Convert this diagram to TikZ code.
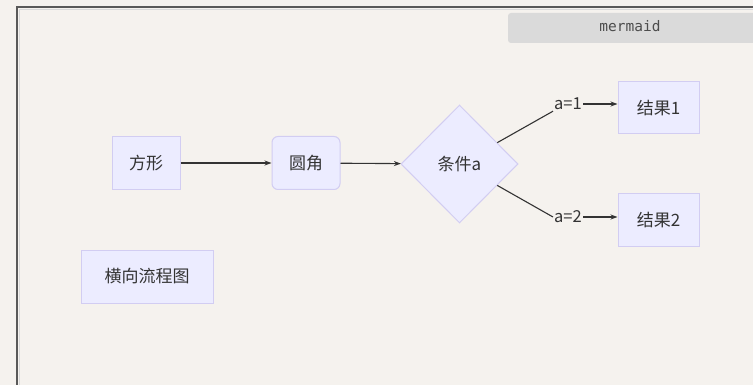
\documentclass[tikz,border=0pt]{standalone}
\usepackage{fontspec}
\setmainfont{Noto Sans CJK SC}
\newfontfamily\monof{DejaVu Sans Mono}
\usetikzlibrary{shapes.geometric,arrows.meta}
\definecolor{bgc}{HTML}{F5F2EE}
\definecolor{nodefill}{HTML}{ECECFF}
\definecolor{nodeline}{HTML}{D2CDF2}
\definecolor{edgec}{HTML}{333333}
\definecolor{txt}{HTML}{333333}
\definecolor{hdr}{HTML}{DADADA}
\tikzset{
  fc/.style={draw=nodeline, fill=nodefill, line width=1pt, text=txt, font=\fontsize{17}{20}\selectfont, inner sep=0pt},
  sqbox/.style={fc, minimum width=68pt, minimum height=53pt},
  rbox/.style={fc, minimum width=68pt, minimum height=53pt, rounded corners=6pt},
  dia/.style={fc, diamond, minimum width=117pt, minimum height=118pt},
  lbl/.style={text=txt, font=\fontsize{16.5}{19}\selectfont, inner sep=1pt},
  edge/.style={draw=edgec, line width=1.1pt, -{Stealth[length=7pt,width=5pt]}},
  seg/.style={draw=edgec, line width=1.1pt}
}
\begin{document}
\begin{tikzpicture}[x=1pt,y=-1pt]
\fill[bgc] (0,0) rectangle (753,385);
\useasboundingbox (0,0) rectangle (753,385);
\draw[gray!70!black, line width=1.2pt] (17,385) -- (17,7) -- (753,7);
\draw[gray!30, line width=0.8pt] (19,385) -- (19,9) -- (753,9);
\fill[hdr, rounded corners=3pt] (508,13) rectangle (760,43);
\node[font=\monof\fontsize{14.5}{17}\selectfont, text=black!70] (hd) at (630,26) {mermaid};

\node[sqbox] (a) at (146,163) {方形};
\node[rbox] (b) at (306,163) {圆角};
\node[dia] (c) at (459.5,164) {条件a};
\node[sqbox, minimum width=81pt, minimum height=52pt] (r1) at (658.5,108) {结果1};
\node[sqbox, minimum width=81pt, minimum height=52pt] (r2) at (658.5,220) {结果2};
\node[sqbox, minimum width=132pt, minimum height=53pt] (t) at (147,276.5) {横向流程图};

\node[lbl] (l1) at (568,104) {a=1};
\node[lbl] (l2) at (568,217) {a=2};

\draw[edge] (a) -- (b);
\draw[edge] (b) -- (c);
\draw[seg] (c) -- (l1.south west);
\draw[seg] (c) -- (l2.west);
\draw[edge] (l1.east) -- (l1.east -| r1.west);
\draw[edge] (l2.east) -- (l2.east -| r2.west);
\end{tikzpicture}
\end{document}
